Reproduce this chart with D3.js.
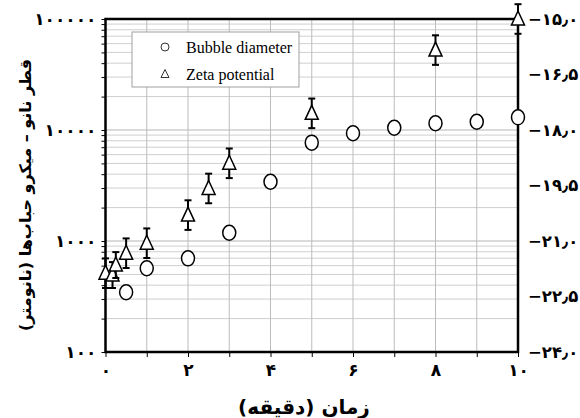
<!DOCTYPE html>
<html>
<head>
<meta charset="utf-8">
<script src="https://cdn.jsdelivr.net/npm/d3@7"></script>
<style>
	body { margin: 0; background: #fff; }
	svg { display: block; }
</style>
</head>
<body>
<div id="chart"></div>
<script>
// time (minutes) and bubble diameter (nm), left log axis
var bubbleTime = [0.5, 1, 2, 3, 4, 5, 6, 7, 8, 9, 10];
var bubbleDiameter = [345, 568, 698, 1188, 3420, 7690, 9340, 10490, 11490, 11880, 13010];

// time (minutes) and zeta potential (mV), right linear axis
var zetaTime = [0, 0.17, 0.25, 0.5, 1, 2, 2.5, 3, 5, 8, 10];
var zetaPotential = [-21.87, -21.92, -21.65, -21.33, -21.06, -20.3, -19.58, -18.9, -17.55, -15.84, -15.0];
var zetaError = [0.4, 0.35, 0.35, 0.4, 0.4, 0.4, 0.4, 0.4, 0.4, 0.4, 0.4];

var xTicks = [0, 2, 4, 6, 8, 10];
var leftTicks = [100, 1000, 10000, 100000];
var rightTicks = [-24, -22.5, -21, -19.5, -18, -16.5, -15];

var legendLabels = ['Bubble diameter', 'Zeta potential'];
var xTitle = 'زمان (دقیقه)';
var yTitle = 'قطر نانو – میکرو حباب‌ها (نانومتر)';

function fa(s) {
	var digits = '۰۱۲۳۴۵۶۷۸۹';
	return String(s).replace(/[0-9]/g, function(c) { return digits[+c]; }).replace('.', '٫').replace('-', '−');
}

var svg = d3.select('#chart').append('svg').attr('width', 580).attr('height', 418);

var pLeft = 105.5, pRight = 518, pTop = 19, pBottom = 352;

var xScale = d3.scaleLinear().domain([0, 10]).range([pLeft, pRight]);
var yLeft = d3.scaleLog().domain([100, 100000]).range([pBottom, pTop]);
var yRight = d3.scaleLinear().domain([-24, -15]).range([pBottom, pTop]);

// grid
var gridG = svg.append('g');
var minorVals = [];
[100, 1000, 10000].forEach(function(base) {
	for (var k = 2; k <= 9; k++) minorVals.push(base * k);
});

gridG.selectAll('.hminor').data(minorVals).enter().append('line')
	.attr('x1', pLeft).attr('x2', pRight)
	.attr('y1', function(d) { return yLeft(d); })
	.attr('y2', function(d) { return yLeft(d); })
	.attr('stroke', '#cfcfcf')
	.attr('stroke-width', 1);

gridG.selectAll('.hmajor').data([1000, 10000]).enter().append('line')
	.attr('x1', pLeft).attr('x2', pRight)
	.attr('y1', function(d) { return yLeft(d); })
	.attr('y2', function(d) { return yLeft(d); })
	.attr('stroke', '#b5b5b5')
	.attr('stroke-width', 1);

gridG.selectAll('.vgrid').data(d3.range(1, 10)).enter().append('line')
	.attr('x1', function(d) { return xScale(d); })
	.attr('x2', function(d) { return xScale(d); })
	.attr('y1', pTop).attr('y2', pBottom)
	.attr('stroke', '#bdbdbd')
	.attr('stroke-width', 1);

// axes
var xAxis = d3.axisBottom(xScale).tickValues(d3.range(0, 11)).tickSize(5).tickFormat(function(d) {
	return xTicks.indexOf(d) >= 0 ? fa(d) : '';
}).tickPadding(7);

var xAxisG = svg.append('g')
	.attr('transform', 'translate(0,' + pBottom + ')')
	.call(xAxis);

var yAxis = d3.axisLeft(yLeft).tickValues(leftTicks.concat(minorVals)).tickSize(4)
	.tickFormat(function(d) { return leftTicks.indexOf(d) >= 0 ? fa(d) : ''; })
	.tickPadding(5);

var yAxisG = svg.append('g')
	.attr('transform', 'translate(' + pLeft + ',0)')
	.call(yAxis);

var yAxisR = d3.axisRight(yRight).tickValues(rightTicks).tickSize(0)
	.tickFormat(function(d) { return fa(d.toFixed(1)); })
	.tickPadding(10);

var yAxisRG = svg.append('g')
	.attr('transform', 'translate(' + pRight + ',0)')
	.call(yAxisR);

[xAxisG, yAxisG, yAxisRG].forEach(function(g) {
	g.select('.domain').remove();
	g.selectAll('line').attr('stroke', '#000');
	g.selectAll('text')
		.attr('fill', '#000')
		.style('font-family', '"DejaVu Sans", sans-serif')
		.style('font-weight', 'bold')
		.style('font-size', '17px');
});
yAxisRG.selectAll('text').attr('direction', 'ltr').style('font-size', '16.5px');

// plot frame
svg.append('rect')
	.attr('x', pLeft).attr('y', pTop)
	.attr('width', pRight - pLeft).attr('height', pBottom - pTop)
	.attr('fill', 'none')
	.attr('stroke', '#000')
	.attr('stroke-width', 2.5);

// legend
var legend = svg.append('g');
legend.append('rect')
	.attr('x', 132).attr('y', 32)
	.attr('width', 167).attr('height', 55)
	.attr('fill', '#fff')
	.attr('stroke', '#a0a0a0');

legend.append('circle')
	.attr('cx', 165).attr('cy', 47).attr('r', 4)
	.attr('fill', '#fff').attr('stroke', '#333');

legend.append('path')
	.attr('d', 'M0,-4.5L4,3.5L-4,3.5Z')
	.attr('transform', 'translate(165,74)')
	.attr('fill', '#fff').attr('stroke', '#333');

legend.selectAll('.ltext').data(legendLabels).enter().append('text')
	.attr('x', 186)
	.attr('y', function(d, i) { return 53 + i * 27; })
	.style('font-family', '"Liberation Serif", "Times New Roman", serif')
	.style('font-size', '16px')
	.attr('fill', '#000')
	.text(function(d) { return d; });

// bubble diameter circles
var bubbleData = bubbleTime.map(function(t, i) { return { t: t, v: bubbleDiameter[i] }; });
svg.selectAll('.bubble').data(bubbleData).enter().append('ellipse')
	.attr('cx', function(d) { return xScale(d.t); })
	.attr('cy', function(d) { return yLeft(d.v); })
	.attr('rx', 6.5).attr('ry', 7.5)
	.attr('fill', '#fff')
	.attr('stroke', '#000')
	.attr('stroke-width', 1.5);

// zeta potential triangles with error bars
var zetaData = zetaTime.map(function(t, i) { return { t: t, v: zetaPotential[i], e: zetaError[i] }; });
var zetaG = svg.selectAll('.zeta').data(zetaData).enter().append('g');

zetaG.append('line')
	.attr('x1', function(d) { return xScale(d.t); })
	.attr('x2', function(d) { return xScale(d.t); })
	.attr('y1', function(d) { return yRight(d.v + d.e); })
	.attr('y2', function(d) { return yRight(d.v - d.e); })
	.attr('stroke', '#000').attr('stroke-width', 2);

[1, -1].forEach(function(s) {
	zetaG.append('line')
		.attr('x1', function(d) { return xScale(d.t) - 3.5; })
		.attr('x2', function(d) { return xScale(d.t) + 3.5; })
		.attr('y1', function(d) { return yRight(d.v + s * d.e); })
		.attr('y2', function(d) { return yRight(d.v + s * d.e); })
		.attr('stroke', '#000').attr('stroke-width', 2);
});

zetaG.append('path')
	.attr('d', 'M0,-8L6.5,6L-6.5,6Z')
	.attr('transform', function(d) { return 'translate(' + xScale(d.t) + ',' + yRight(d.v) + ')'; })
	.attr('fill', '#fff')
	.attr('stroke', '#000')
	.attr('stroke-width', 1.5);

// titles
svg.append('text')
	.attr('x', 304).attr('y', 414)
	.attr('text-anchor', 'middle')
	.attr('direction', 'rtl')
	.style('font-family', '"DejaVu Sans", sans-serif')
	.style('font-weight', 'bold')
	.style('font-size', '20px')
	.text(xTitle);

svg.append('text')
	.attr('transform', 'translate(31,195) rotate(-90)')
	.attr('text-anchor', 'middle')
	.attr('direction', 'rtl')
	.style('font-family', '"DejaVu Sans", sans-serif')
	.style('font-weight', 'bold')
	.style('font-size', '16px')
	.text(yTitle);
</script>
</body>
</html>
